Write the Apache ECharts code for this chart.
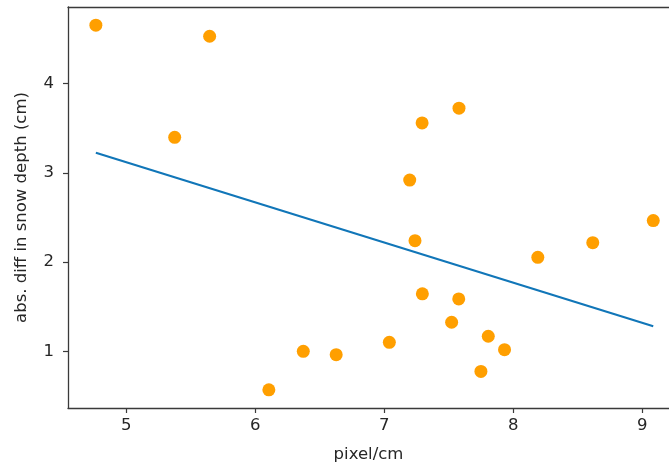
<!DOCTYPE html>
<html>
<head>
<meta charset="utf-8">
<script src="https://cdn.jsdelivr.net/npm/echarts@6/dist/echarts.min.js"></script>
<style>
  html, body { margin: 0; padding: 0; background: #ffffff; }
  #chart { width: 669px; height: 468px; }
</style>
</head>
<body>
<div id="chart"></div>
<script>
// Measured resolution (pixel/cm) and absolute snow depth difference (cm)
const pixelPerCm = [4.764, 5.646, 5.375, 7.579, 7.293, 7.197, 7.238, 8.190, 8.616, 9.085,
                    7.295, 7.577, 6.105, 6.372, 6.627, 7.039, 7.522, 7.806, 7.932, 7.749];
const absDiff    = [4.656, 4.532, 3.399, 3.726, 3.561, 2.920, 2.241, 2.054, 2.218, 2.466,
                    1.645, 1.588, 0.569, 1.000, 0.963, 1.101, 1.326, 1.169, 1.019, 0.775];

// Least-squares trend line end points
const fitX = [4.764, 9.085];
const fitY = [3.227, 1.281];

// Tick labels
const xTicks = [5, 6, 7, 8, 9];
const yTicks = [1, 2, 3, 4];

const textColor = '#262626';
const spineColor = '#3a3a3a';
const font = 'DejaVu Sans';
const fs = 16.5;

const chart = echarts.init(document.getElementById('chart'), null, { renderer: 'canvas' });

chart.setOption({
  animation: false,
  backgroundColor: '#ffffff',
  grid: { left: 68, top: 7, right: 0, bottom: 60, show: false },
  xAxis: [
    {
      type: 'value',
      min: 4.548, max: 9.207,
      name: 'pixel/cm',
      nameLocation: 'middle',
      nameGap: 38,
      nameTextStyle: { fontFamily: font, fontSize: fs, color: textColor },
      splitLine: { show: false },
      axisLine: { show: true, onZero: false, lineStyle: { color: spineColor, width: 1.3 } },
      axisTick: { show: true, length: 5, customValues: xTicks, lineStyle: { color: spineColor, width: 1.2 } },
      axisLabel: { customValues: xTicks, fontFamily: font, fontSize: fs, color: textColor, margin: 9 }
    },
    {
      // top frame line
      type: 'value',
      position: 'top',
      min: 4.548, max: 9.207,
      splitLine: { show: false },
      axisLine: { show: true, onZero: false, lineStyle: { color: spineColor, width: 1.3 } },
      axisTick: { show: false },
      axisLabel: { show: false }
    }
  ],
  yAxis: {
    type: 'value',
    min: 0.365, max: 4.86,
    name: 'abs. diff in snow depth (cm)',
    nameLocation: 'middle',
    nameGap: 38,
    nameTextStyle: { fontFamily: font, fontSize: fs, color: textColor },
    splitLine: { show: false },
    axisLine: { show: true, onZero: false, lineStyle: { color: spineColor, width: 1.3 } },
    axisTick: { show: true, length: 5, customValues: yTicks, lineStyle: { color: spineColor, width: 1.2 } },
    axisLabel: { customValues: yTicks, fontFamily: font, fontSize: fs, color: textColor, margin: 14 }
  },
  series: [
    {
      type: 'line',
      data: fitX.map((x, i) => [x, fitY[i]]),
      symbol: 'none',
      lineStyle: { color: '#1176b8', width: 2.2 },
      z: 2
    },
    {
      type: 'scatter',
      data: pixelPerCm.map((x, i) => [x, absDiff[i]]),
      symbol: 'circle',
      symbolSize: 13,
      itemStyle: { color: '#ff9f00', opacity: 1 },
      z: 3
    }
  ]
});
</script>
</body>
</html>
